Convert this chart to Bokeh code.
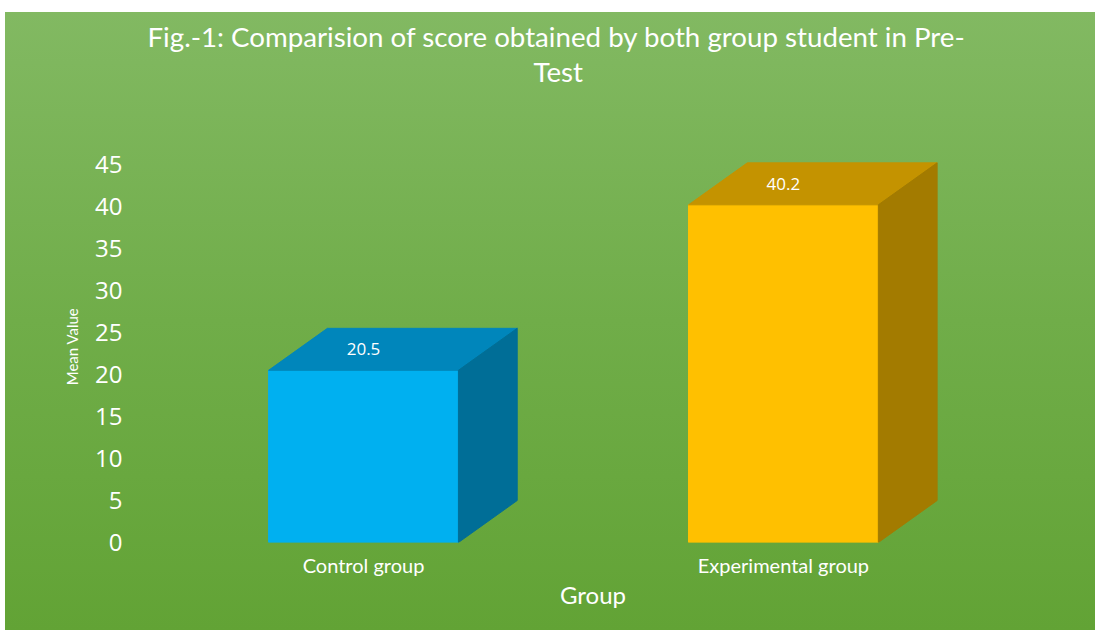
from bokeh.plotting import figure
from bokeh.models import Range1d, FixedTicker, ColumnDataSource, Title
from bokeh.embed import file_html
from bokeh.resources import INLINE
from bokeh.core.properties import value

# ---- data ----
categories = ["Control group", "Experimental group"]
means = [20.5, 40.2]
value_labels = ["20.5", "40.2"]
y_ticks = [0, 5, 10, 15, 20, 25, 30, 35, 40, 45]
title_lines = ["Fig.-1: Comparision of score obtained by both group student in Pre-", "Test"]
x_title = "Group"
y_title = "Mean Value"

# ---- styles ----
front_colors = ["#00b0f0", "#ffc000"]
top_colors = ["#0086bb", "#c49300"]
side_colors = ["#006e97", "#a37b00"]
HALF = 0.226   # half bar width (x units)
DX = 0.14      # 3D depth in x units
DY = 5.0       # 3D depth in y units

x_pos = list(range(len(categories)))

W, H = 1090, 618
p = figure(width=W, height=H, title=None,
           x_range=Range1d(-0.543, 1.636), y_range=Range1d(0, 46.67),
           output_backend="svg", toolbar_location=None,
           min_border_left=130, min_border_right=45,
           min_border_top=138, min_border_bottom=88)

p.background_fill_color = None
p.border_fill_color = None
p.outline_line_color = None
p.styles = {"background": "linear-gradient(to bottom, #82b962 0%, #70ad49 50%, #62a335 100%)",
            "margin-top": "12px", "margin-left": "5px"}
p.grid.visible = False

# front faces
front = ColumnDataSource(dict(
    left=[x - HALF for x in x_pos],
    right=[x + HALF for x in x_pos],
    top=means, bottom=[0] * len(means), color=front_colors))
p.quad(left="left", right="right", top="top", bottom="bottom",
       fill_color="color", line_color="color", source=front)

# top faces
top_src = ColumnDataSource(dict(
    xs=[[x - HALF, x - HALF + DX, x + HALF + DX, x + HALF] for x in x_pos],
    ys=[[m, m + DY, m + DY, m] for m in means],
    color=top_colors))
p.patches(xs="xs", ys="ys", fill_color="color", line_color="color", source=top_src)

# side faces
side_src = ColumnDataSource(dict(
    xs=[[x + HALF, x + HALF + DX, x + HALF + DX, x + HALF] for x in x_pos],
    ys=[[0, DY, m + DY, m] for m in means],
    color=side_colors))
p.patches(xs="xs", ys="ys", fill_color="color", line_color="color", source=side_src)

# value labels on top faces
lab = ColumnDataSource(dict(x=x_pos, y=[m + DY / 2 for m in means], t=value_labels))
p.text(x="x", y="y", text="t", source=lab, text_color="white",
       text_align="center", text_baseline="middle",
       text_font=value("Open Sans"), text_font_size="17px")

# spacer between frame and the title block
p.add_layout(Title(text=" ", text_font_size="1px", standoff=60), "above")
# title: two lines (second line added first -> closest to the frame)
for line, off in zip(reversed(title_lines), [398, 12]):
    p.add_layout(Title(text=line, align="left", offset=off, standoff=0,
                       text_color="white", text_font="Lato", text_font_size="27.7px",
                       text_font_style="normal"), "above")

# axes
p.yaxis.ticker = FixedTicker(ticks=y_ticks)
p.xaxis.ticker = FixedTicker(ticks=x_pos)
p.xaxis.major_label_overrides = {i: c for i, c in enumerate(categories)}
for ax in (p.xaxis, p.yaxis):
    ax.axis_line_color = None
    ax.major_tick_line_color = None
    ax.minor_tick_line_color = None
    ax.major_tick_out = 0
    ax.major_label_text_color = "white"
    ax.axis_label_text_color = "white"
    ax.axis_label_text_font_style = "normal"

p.yaxis.major_label_text_font = "Open Sans"
p.yaxis.major_label_text_font_size = "24px"
p.yaxis.major_label_standoff = 13
p.yaxis.axis_label = y_title
p.yaxis.axis_label_text_font = "Lato"
p.yaxis.axis_label_text_font_size = "15px"
p.yaxis.axis_label_standoff = 11

p.xaxis.major_label_text_font = "Lato"
p.xaxis.major_label_text_font_size = "20px"
p.xaxis.major_label_standoff = 10
p.xaxis.axis_label = x_title
p.xaxis.axis_label_text_font = "Lato"
p.xaxis.axis_label_text_font_size = "24px"
p.xaxis.axis_label_standoff = 0

open("out.html", "w").write(file_html(p, INLINE))
